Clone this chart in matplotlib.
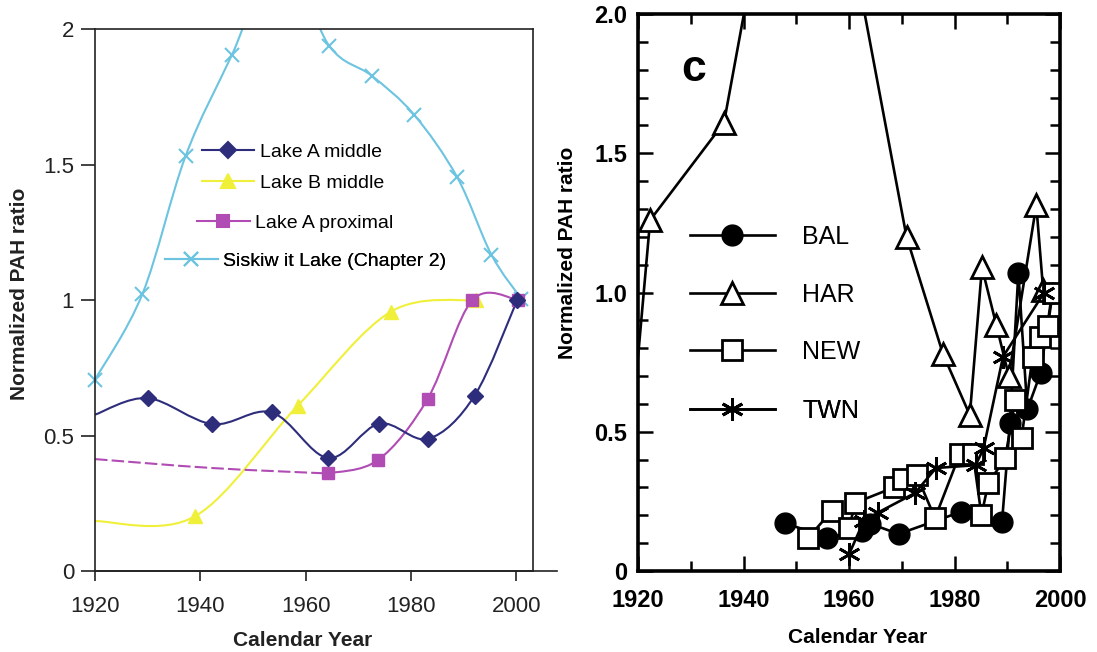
import numpy as np
import matplotlib
matplotlib.use('Agg')
import matplotlib.pyplot as plt
from matplotlib.path import Path
from matplotlib.patches import PathPatch
from matplotlib.lines import Line2D
from matplotlib.ticker import MultipleLocator

plt.rcParams['font.family'] = ['Liberation Sans', 'DejaVu Sans']

# left panel: this study (smoothed Excel lines)
a_mid_years = [1920, 1930.0, 1942.3, 1953.6, 1964.3, 1974.0, 1983.3, 1992.1, 2000.2]
a_mid_vals = [0.577, 0.638, 0.542, 0.585, 0.417, 0.544, 0.488, 0.647, 1.0]
b_mid_years = [1920, 1939.0, 1958.5, 1976.2, 1992.3]
b_mid_vals = [0.184, 0.202, 0.61, 0.957, 1.0]
a_prox_years = [1964.2, 1973.8, 1983.2, 1991.7, 2000.4]
a_prox_vals = [0.36, 0.41, 0.636, 1.0, 1.0]
a_prox_ext_years = [1920, 1942.3, 1964.2]
a_prox_ext_vals = [0.413, 0.38, 0.36]
sisk_years = [1920, 1929.0, 1937.2, 1946.0, 1955.2, 1964.5, 1972.6, 1980.6, 1988.8, 1995.3, 2001.0]
sisk_vals = [0.706, 1.022, 1.531, 1.904, 2.28, 1.9375, 1.827, 1.684, 1.453, 1.167, 1.004]

# right panel: comparison lakes (panel c)
bal_years = [1947.9, 1955.9, 1962.5, 1964.0, 1969.4, 1981.3, 1989.0, 1990.5, 1992.1, 1993.8, 1996.3, 1998.5]
bal_vals = [0.172, 0.12, 0.145, 0.17, 0.133, 0.213, 0.176, 0.53, 1.07, 0.58, 0.71, 1.0]
har_years = [1918, 1922.3, 1936.3, 1951.4, 1970.9, 1977.8, 1982.9, 1985.2, 1987.9, 1990.3, 1995.5, 1996.8]
har_vals = [0.34, 1.26, 1.61, 3.17, 1.2, 0.78, 0.56, 1.09, 0.885, 0.7, 1.314, 1.01]
new_years = [1952.2, 1956.7, 1960.0, 1961.2, 1968.5, 1970.3, 1972.8, 1976.3, 1981.0, 1983.5, 1985.1,
             1986.4, 1989.6, 1991.5, 1992.7, 1994.8, 1996.2, 1997.7, 1998.6]
new_vals = [0.118, 0.215, 0.155, 0.245, 0.30, 0.33, 0.345, 0.19, 0.42, 0.42, 0.2,
            0.315, 0.405, 0.614, 0.477, 0.77, 0.84, 0.88, 1.0]
twn_years = [1960.0, 1962.8, 1965.5, 1972.5, 1976.5, 1984.0, 1985.5, 1989.2, 1997.0]
twn_vals = [0.06, 0.18, 0.21, 0.28, 0.37, 0.38, 0.44, 0.77, 1.0]


def smooth_path(x, y):
    # bezier through the points, like excel's smoothed line
    x = np.asarray(x, float)
    y = np.asarray(y, float)
    n = len(x)
    verts = [(x[0], y[0])]
    codes = [Path.MOVETO]
    for i in range(n - 1):
        xa, ya = (x[i - 1], y[i - 1]) if i > 0 else (x[i], y[i])
        xb, yb = (x[i + 2], y[i + 2]) if i + 2 < n else (x[i + 1], y[i + 1])
        verts.append((x[i] + (x[i + 1] - xa) / 6, y[i] + (y[i + 1] - ya) / 6))
        verts.append((x[i + 1] - (xb - x[i]) / 6, y[i + 1] - (yb - y[i]) / 6))
        verts.append((x[i + 1], y[i + 1]))
        codes += [Path.CURVE4] * 3
    return Path(verts, codes)


def smooth_line(ax, x, y, color, lw=1.5, ls='-'):
    patch = PathPatch(smooth_path(x, y), fill=False, edgecolor=color, lw=lw, linestyle=ls)
    ax.add_patch(patch)
    patch.set_clip_path(ax.patch)


fig = plt.figure(figsize=(10.97, 6.52), dpi=100)

# ---------------- left panel ----------------
ax1 = fig.add_axes([0.0866, 0.1242, 0.3993, 0.8313])
c_amid, c_bmid, c_prox, c_sisk = '#2e2d7c', '#f0f03a', '#b04cb4', '#6cc4e0'

smooth_line(ax1, sisk_years, sisk_vals, c_sisk)
smooth_line(ax1, b_mid_years, b_mid_vals, c_bmid)
smooth_line(ax1, a_prox_ext_years, a_prox_ext_vals, c_prox, ls=(0, (6, 2)))
smooth_line(ax1, a_prox_years, a_prox_vals, c_prox)
smooth_line(ax1, a_mid_years, a_mid_vals, c_amid)

ax1.plot(sisk_years, sisk_vals, ls='none', marker='x', ms=10, mew=1.5, color=c_sisk, clip_on=False)
ax1.plot(b_mid_years[1:], b_mid_vals[1:], ls='none', marker='^', ms=10, color=c_bmid)
ax1.plot(a_prox_years, a_prox_vals, ls='none', marker='s', ms=9, color=c_prox)
ax1.plot(a_mid_years[1:], a_mid_vals[1:], ls='none', marker='D', ms=8, color=c_amid)

ax1.set_xlim(1920, 2003.2)
ax1.set_ylim(0, 2)
ax1.set_xticks([1920, 1940, 1960, 1980, 2000])
ax1.set_yticks([0, 0.5, 1, 1.5, 2])
ax1.set_yticklabels(['0', '0.5', '1', '1.5', '2'])
ax1.tick_params(axis='x', direction='out', length=7, width=1.2, labelsize=16, pad=11, colors='#222222')
ax1.tick_params(axis='y', direction='out', length=10, width=1.2, labelsize=16, pad=5, colors='#222222')
for s in ax1.spines.values():
    s.set_linewidth(1.2)
    s.set_color('#222222')
ax1.plot([0, 1.055], [0, 0], transform=ax1.transAxes, color='#222222', lw=1.2, clip_on=False)

ax1.set_xlabel('Calendar Year', fontsize=15, fontweight='bold', color='#222222')
ax1.xaxis.set_label_coords(0.474, -0.129)
ax1.xaxis.label.set_va('center')
ax1.set_ylabel('Normalized PAH ratio', fontsize=15, fontweight='bold', color='#222222')
ax1.yaxis.set_label_coords(-0.1735, 0.511)
ax1.yaxis.label.set_va('center')

left_entries = [
    ('Lake A middle', c_amid, 'D', 8, 0.244, 0.773),
    ('Lake B middle', c_bmid, '^', 10, 0.244, 0.716),
    ('Lake A proximal', c_prox, 's', 9, 0.233, 0.642),
    ('Siskiw it Lake (Chapter 2)', c_sisk, 'x', 10, 0.160, 0.572),
]
for label, col, mk, ms, lx, ly in left_entries:
    h = Line2D([], [], color=col, lw=1.5, marker=mk, ms=ms, mew=1.5)
    leg = ax1.legend([h], [label], loc='center left', bbox_to_anchor=(lx, ly),
                     frameon=False, fontsize=14, handlelength=2.7, handletextpad=0.3,
                     borderpad=0, borderaxespad=0)
    ax1.add_artist(leg)

# ---------------- right panel ----------------
ax2 = fig.add_axes([0.5816, 0.1242, 0.3847, 0.8543])
lw = 1.9
ax2.plot(bal_years, bal_vals, color='k', lw=lw, marker='o', ms=15, mfc='k', mec='k')
ax2.plot(har_years, har_vals, color='k', lw=lw, marker='^', ms=16, mfc='white', mec='k', mew=2)
ax2.plot(new_years, new_vals, color='k', lw=lw, marker='s', ms=14, mfc='white', mec='k', mew=2)
ax2.plot(twn_years, twn_vals, color='k', lw=lw, marker=(6, 2, 0), ms=16, mec='k', mew=2)

ax2.set_xlim(1920, 2000)
ax2.set_ylim(0, 2.0)
ax2.set_xticks([1920, 1940, 1960, 1980, 2000])
ax2.xaxis.set_minor_locator(MultipleLocator(10))
ax2.set_yticks([0, 0.5, 1.0, 1.5, 2.0])
ax2.set_yticklabels(['0', '0.5', '1.0', '1.5', '2.0'])
ax2.yaxis.set_minor_locator(MultipleLocator(0.1))
ax2.tick_params(which='both', direction='in', top=True, right=True, width=1.8)
ax2.tick_params(which='major', length=11)
ax2.tick_params(which='minor', length=7)
ax2.tick_params(axis='x', labelsize=17, pad=13)
ax2.tick_params(axis='y', labelsize=17, pad=8)
for t in ax2.get_xticklabels() + ax2.get_yticklabels():
    t.set_fontweight('bold')
for s in ax2.spines.values():
    s.set_linewidth(2.6)

ax2.set_xlabel('Calendar Year', fontsize=15, fontweight='bold')
ax2.xaxis.set_label_coords(0.521, -0.120)
ax2.xaxis.label.set_va('center')
ax2.set_ylabel('Normalized PAH ratio', fontsize=15, fontweight='bold')
ax2.yaxis.set_label_coords(-0.168, 0.571)
ax2.yaxis.label.set_va('center')

ax2.text(0.132, 0.9, 'c', transform=ax2.transAxes, fontsize=32, fontweight='bold',
         ha='center', va='center')

right_entries = [
    ('BAL', dict(marker='o', ms=15, mfc='k'), 0.5996),
    ('HAR', dict(marker='^', ms=16, mfc='white', mew=2), 0.4955),
    ('NEW', dict(marker='s', ms=14, mfc='white', mew=2), 0.393),
    ('TWN', dict(marker=(6, 2, 0), ms=16, mew=2), 0.287),
]
for label, mk, ly in right_entries:
    h = Line2D([], [], color='k', lw=lw, mec='k', **mk)
    leg = ax2.legend([h], [label], loc='center left', bbox_to_anchor=(0.123, ly),
                     frameon=False, fontsize=18, handlelength=3.4, handletextpad=1.1,
                     borderpad=0, borderaxespad=0)
    ax2.add_artist(leg)

fig.savefig('out.png', dpi=100)
